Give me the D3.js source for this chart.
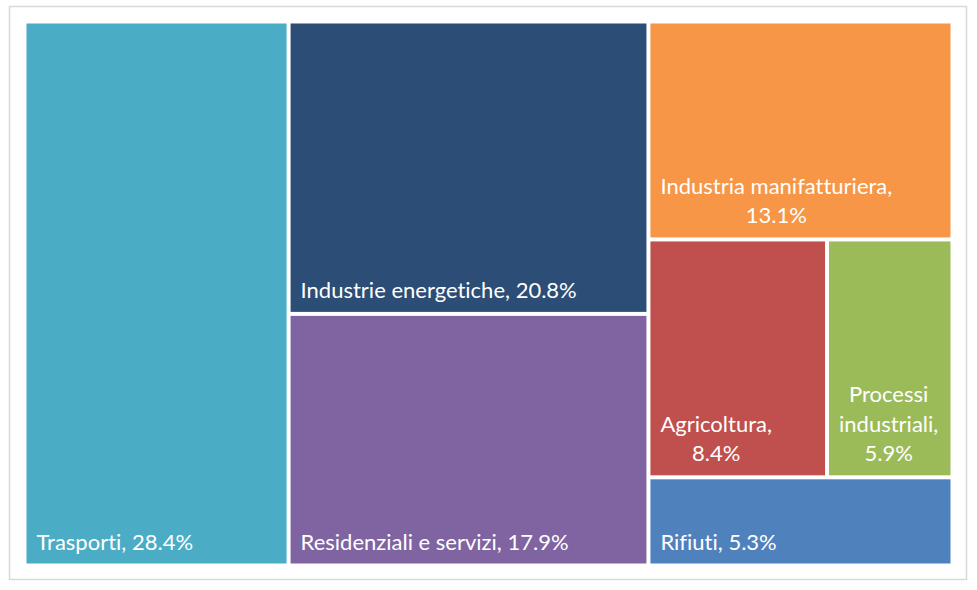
<!DOCTYPE html>
<html>
<head>
<meta charset="utf-8">
<script src="https://cdn.jsdelivr.net/npm/d3@7"></script>
<style>
  body { margin: 0; background: #fff; }
  svg { display: block; }
  text { font-variant-ligatures: none; font-feature-settings: "liga" 0; }
</style>
</head>
<body>
<svg id="chart" width="977" height="590"></svg>
<script>
// Emissioni per settore (quota %)
const categories = ["Trasporti", "Industrie energetiche", "Residenziali e servizi",
  "Industria manifatturiera", "Agricoltura", "Processi industriali", "Rifiuti"];
const shares = [28.4, 20.8, 17.9, 13.1, 8.4, 5.9, 5.3];
const colors = ["#4BACC6", "#2C4D75", "#8064A2", "#F79646", "#C0504D", "#9BBB59", "#4F81BD"];
// how the tiles are grouped: column, then band inside the column
const column = [0, 1, 1, 2, 2, 2, 2];
const band = [0, 0, 1, 0, 1, 1, 2];

const width = 977, height = 590;
const svg = d3.select("svg#chart");

// outer frame
svg.append("rect")
  .attr("x", 9.5).attr("y", 6.5)
  .attr("width", 957).attr("height", 573)
  .attr("fill", "#fff")
  .attr("stroke", "#D9D9D9")
  .attr("stroke-width", 1.5);

// build nested data: root -> columns -> bands -> leaves
let root_data = {name: "root", children: []};
categories.forEach(function(name, i) {
  let col = root_data.children[column[i]];
  if (!col) col = root_data.children[column[i]] = {name: "c" + column[i], children: []};
  let b = col.children[band[i]];
  if (!b) b = col.children[band[i]] = {name: "b" + band[i], children: []};
  b.children.push({name: name, value: shares[i], color: colors[i]});
});

const root = d3.hierarchy(root_data).sum(d => d.value || 0);

// columns side by side, bands stacked, leaves side by side
function tile(node, x0, y0, x1, y1) {
  if (node.depth % 2 === 0) d3.treemapDice(node, x0, y0, x1, y1);
  else d3.treemapSlice(node, x0, y0, x1, y1);
}

d3.treemap()
  .tile(tile)
  .size([924, 540])
  .paddingInner(4)
  (root);

const g = svg.append("g").attr("transform", "translate(26.5,23.5)");

const leaf = g.selectAll("g.leaf")
  .data(root.leaves())
  .join("g")
  .attr("class", "leaf");

leaf.append("rect")
  .attr("x", d => d.x0)
  .attr("y", d => d.y0)
  .attr("width", d => d.x1 - d.x0)
  .attr("height", d => d.y1 - d.y0)
  .attr("fill", d => d.data.color);

const fmt = d3.format(".1f");
const pad = 10, lineH = 29.5, fontSize = 22;

leaf.each(function(d) {
  let cell = d3.select(this);
  let words = (d.data.name + ", " + fmt(d.data.value) + "%").split(" ");
  let maxW = d.x1 - d.x0 - 2 * pad;

  // measure words to wrap them greedily
  let probe = cell.append("text")
    .attr("font-family", "Lato, 'Open Sans', sans-serif")
    .attr("font-size", fontSize);
  let lines = [], cur = "";
  words.forEach(function(w) {
    let test = cur ? cur + " " + w : w;
    probe.text(test);
    if (cur && probe.node().getComputedTextLength() > maxW) {
      lines.push(cur);
      cur = w;
    } else {
      cur = test;
    }
  });
  lines.push(cur);
  let widths = lines.map(function(l) {
    probe.text(l);
    return probe.node().getComputedTextLength();
  });
  probe.remove();

  let blockW = d3.max(widths);
  let cx = d.x0 + pad + blockW / 2;
  let lastY = d.y1 - 14;

  cell.selectAll("text.lbl")
    .data(lines)
    .join("text")
    .attr("class", "lbl")
    .attr("x", cx)
    .attr("y", (l, i) => lastY - (lines.length - 1 - i) * lineH)
    .attr("text-anchor", "middle")
    .attr("font-family", "Lato, 'Open Sans', sans-serif")
    .attr("font-size", fontSize)
    .attr("fill", "#fff")
    .text(l => l);
});
</script>
</body>
</html>
